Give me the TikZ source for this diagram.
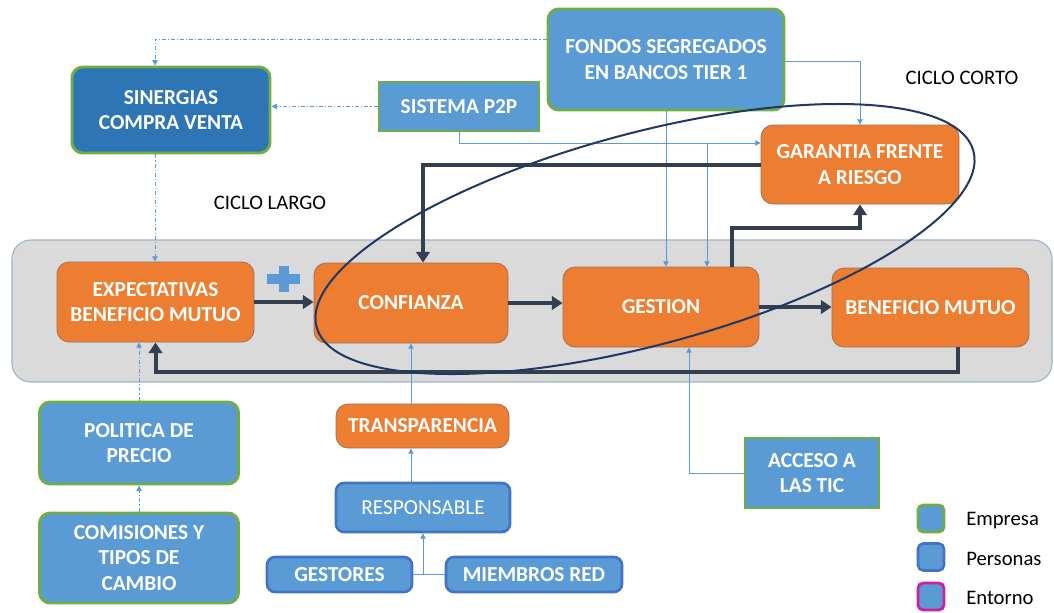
\documentclass[tikz,border=0pt]{standalone}
\usepackage{fontspec}
\setmainfont{Carlito}
\usetikzlibrary{arrows.meta}

\definecolor{azul}{HTML}{5B9BD5}
\definecolor{azuloscuro}{HTML}{2E75B6}
\definecolor{verde}{HTML}{70AD47}
\definecolor{bordeper}{HTML}{4472C4}
\definecolor{naranja}{HTML}{ED7D31}
\definecolor{bordenar}{HTML}{A0705A}
\definecolor{gris}{HTML}{DADADA}
\definecolor{bordegris}{HTML}{9DB3CC}
\definecolor{flecha}{HTML}{333F50}
\definecolor{elipse}{HTML}{1F3864}
\definecolor{entorno}{HTML}{D020A0}

\tikzset{
  caja/.style 2 args={rectangle, minimum width=#1*0.75pt, minimum height=#2*0.75pt,
    inner sep=0pt, align=center, text=white,
    font=\fontsize{16}{19}\selectfont\bfseries},
  empresa/.style={fill=azul, draw=verde, line width=2.2pt, rounded corners=8pt},
  personas/.style={fill=azul, draw=bordeper, line width=2pt, rounded corners=6pt},
  proceso/.style={fill=naranja, draw=bordenar, line width=0.6pt, rounded corners=9pt},
  banda/.style={rectangle, minimum width=1040*0.75pt, minimum height=142*0.75pt,
    fill=gris, draw=bordegris, line width=0.8pt, rounded corners=14pt},
  rotulo/.style={inner sep=0pt, text=black, font=\fontsize{15.5}{18}\selectfont},
  fina/.style={azul, line width=0.6pt, -{Triangle[length=4pt,width=4pt]}},
  puntos/.style={fina, dash pattern=on 3pt off 1.5pt on 0.8pt off 1.5pt},
  gruesa/.style={flecha, line width=3pt, -{Triangle[length=8pt,width=10pt]}},
}

\begin{document}
\begin{tikzpicture}[x=0.75pt, y=-0.75pt]

\useasboundingbox (0,0) rectangle (1054,612);

%% banda del ciclo largo
\node[banda] (band) at (532,311) {};

%% cajas de arriba
\node[caja={198}{86}, empresa, fill=azuloscuro] (sin) at (171,110) {SINERGIAS\\COMPRA VENTA};
\node[caja={160}{49}, empresa, sharp corners] (p2p) at (459,106.5) {SISTEMA P2P};
\node[caja={236}{101}, empresa] (fon) at (666,59.5) {FONDOS SEGREGADOS\\EN BANCOS TIER 1};
\node[caja={198}{79}, proceso] (gar) at (860,164.5) {GARANTIA FRENTE\\A RIESGO};

\node[rotulo] (largo) at (270,203) {CICLO LARGO};
\node[rotulo] (corto) at (962,78) {CICLO CORTO};

%% ciclo
\node[caja={197}{80}, proceso] (exp) at (155.5,302) {EXPECTATIVAS\\BENEFICIO MUTUO};
\node[caja={194}{80}, proceso] (conf) at (411,303) {CONFIANZA};
\node[caja={196}{80}, proceso] (gest) at (661,307) {GESTION};
\node[caja={197}{79}, proceso] (ben) at (930.5,307.5) {BENEFICIO MUTUO};

\fill[azul] (267,274) rectangle (300,284); %% signo mas
\fill[azul] (278.5,266) rectangle (288.5,292);

%% cajas de abajo
\node[caja={199}{82}, empresa] (pol) at (139,443) {POLITICA DE\\PRECIO};
\node[caja={199}{90}, empresa] (com) at (139,558) {COMISIONES Y\\TIPOS DE\\CAMBIO};
\node[caja={173}{44}, proceso] (tra) at (422.5,426) {TRANSPARENCIA};
\node[caja={174}{49}, personas, font=\fontsize{16}{19}\selectfont] (res) at (423,507.5) {RESPONSABLE};
\node[caja={145}{35}, personas] (gst) at (339.5,574.5) {GESTORES};
\node[caja={176}{35}, personas] (mie) at (534,574.5) {MIEMBROS RED};
\node[caja={134}{70}, empresa, sharp corners] (acc) at (812,473) {ACCESO A\\LAS TIC};

%% leyenda
\node[caja={26}{27}, empresa, rounded corners=4pt] (lemp) at (931,518.5) {};
\node[caja={26}{27}, personas, rounded corners=4pt] (lper) at (931,557) {};
\node[caja={26}{27}, empresa, draw=entorno, rounded corners=4pt] (lent) at (931,596.5) {};
\node[rotulo, anchor=west] (temp) at (966,521) {Empresa};
\node[rotulo, anchor=west] (tper) at (966,559) {Personas};
\node[rotulo, anchor=west] (tent) at (966,598) {Entorno};

%% flechas finas
\coordinate (c1) at (155,39);
\draw[puntos] (c1 -| fon.west) -- (c1) -- (c1 |- sin.north);
\draw[puntos] (p2p.west) -- (p2p.west -| sin.east);
\draw[puntos] (c1 |- sin.south) -- (c1 |- exp.north);
\draw[puntos] (com.north) -- (pol.south);
\draw[puntos] (pol.north) -- (pol.north |- exp.south);

\coordinate (c2) at (459,143);
\coordinate (c3) at (707,143);
\coordinate (c4) at (860,61);
\coordinate (c5) at (689,474);
\draw[fina] (c2 |- p2p.south) -- (c2) -- (c2 -| gar.west);
\draw[fina] (c3) -- (c3 |- gest.north);
\draw[fina] (fon.south) -- (fon.south |- gest.north);
\draw[fina] (c4 -| fon.east) -- (c4) -- (c4 |- gar.north);
\draw[fina] (acc.west) -- (acc.west -| c5) -- (c5 |- gest.south);

\draw[fina] (conf.south |- tra.north) -- (conf.south);
\draw[fina] (conf.south |- res.north) -- (conf.south |- tra.south);
\coordinate (c6) at (423,574.5);
\draw[azul, line width=0.6pt] (gst.east) -- (mie.west);
\draw[fina] (c6) -- (c6 |- res.south);

%% flechas gruesas
\draw[gruesa] (exp.east) -- (exp.east -| conf.west);
\draw[gruesa] (conf.east) -- (conf.east -| gest.west);
\draw[gruesa] (gest.east) -- (gest.east -| ben.west);

\coordinate (g1) at (423,163);
\coordinate (g2) at (732,228);
\coordinate (g3) at (958,372);
\draw[gruesa] (gar.west) -- (gar.west -| g1) -- (g1 |- conf.north);
\draw[gruesa] (g2 |- gest.north) -- (g2) -- (g2 -| gar.south) -- (gar.south);
\draw[gruesa] (g3 |- ben.south) -- (g3) -- (g3 -| exp.south) -- (exp.south);

%% ciclo corto
\draw[elipse, line width=1.5pt, rotate around={15:(645,239)}]
  (645,239) ellipse [x radius=340, y radius=106];

\end{tikzpicture}
\end{document}
